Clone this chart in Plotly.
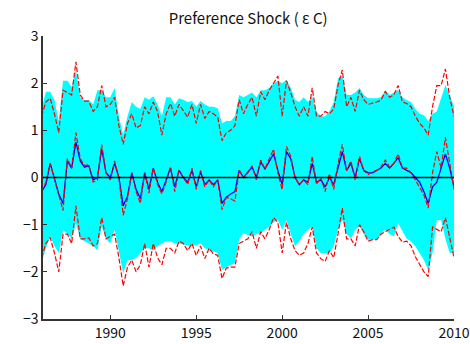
import plotly.graph_objects as go

# Quarterly time axis 1986Q1 .. 2010Q1 (decimal years)
start_year = 1986.0
n_points = 97
years = [start_year + k / 4 for k in range(n_points)]

median = [-0.3, -0.1, 0.3, -0.05, -0.4, -0.7, 0.4, 0.2, 0.95, 0.4, 0.25, 0.27, -0.1, -0.05, 0.7, 0.1,
          -0.05, 0.35, 0.0, -0.8, -0.45, 0.1, -0.3, -0.55, 0.1, -0.33, 0.2, -0.15, -0.35, -0.1, 0.23, -0.3,
          0.15, 0.0, -0.15, 0.2, -0.25, 0.15, -0.2, -0.05, -0.2, -0.05, -0.68, -0.42, -0.45, -0.5, 0.15, 0.0,
          0.1, 0.25, -0.05, 0.37, 0.18, 0.4, 0.6, 0.1, -0.26, 0.66, 0.45, 0.0, -0.15, -0.05, -0.15, 0.45,
          -0.15, 0.0, -0.3, 0.08, -0.25, 0.3, 0.7, 0.15, 0.35, -0.05, 0.45, 0.15, 0.06, 0.12, 0.15, 0.22,
          0.37, 0.22, 0.3, 0.5, 0.2, 0.2, 0.1, -0.05, -0.2, -0.37, -0.65, 0.1, 0.55, 0.2, 0.85, 0.3, -0.25]

mean = [-0.3, -0.15, 0.3, 0.0, -0.35, -0.55, 0.35, 0.2, 0.75, 0.35, 0.22, 0.25, -0.05, 0.0, 0.6, 0.1,
        0.0, 0.3, 0.0, -0.6, -0.4, 0.1, -0.25, -0.45, 0.1, -0.25, 0.2, -0.1, -0.3, -0.05, 0.2, -0.2,
        0.15, 0.0, -0.1, 0.15, -0.2, 0.12, -0.15, -0.05, -0.15, -0.05, -0.55, -0.42, -0.35, -0.3, 0.15, 0.0,
        0.1, 0.22, 0.0, 0.33, 0.18, 0.35, 0.5, 0.15, -0.15, 0.55, 0.4, 0.0, -0.15, -0.05, -0.1, 0.3,
        -0.1, -0.05, -0.2, 0.0, -0.15, 0.2, 0.55, 0.15, 0.3, 0.0, 0.4, 0.15, 0.1, 0.1, 0.15, 0.2,
        0.3, 0.2, 0.3, 0.42, 0.2, 0.15, 0.1, 0.0, -0.1, -0.3, -0.55, -0.2, -0.1, 0.2, 0.5, 0.2, -0.2]

upper_red = [1.3, 1.6, 1.68, 1.35, 0.95, 1.85, 1.8, 1.75, 2.45, 1.75, 1.62, 1.62, 1.4, 1.5, 1.95, 1.5,
             1.55, 1.7, 1.1, 0.7, 1.15, 1.35, 1.05, 1.1, 1.5, 1.35, 1.6, 1.4, 0.9, 1.35, 1.57, 1.3,
             1.55, 1.4, 1.28, 1.55, 1.15, 1.55, 1.25, 1.4, 1.35, 1.28, 0.78, 0.95, 1.0, 1.1, 1.65, 1.35,
             1.55, 1.7, 1.3, 1.82, 1.65, 1.85, 2.0, 2.15, 1.3, 2.05, 1.8, 1.5, 1.3, 1.5, 1.3, 1.9,
             1.3, 1.3, 1.4, 1.35, 1.45, 1.95, 2.28, 1.5, 1.7, 1.4, 1.85, 1.65, 1.55, 1.57, 1.6, 1.64,
             1.82, 1.7, 1.75, 1.95, 1.6, 1.57, 1.5, 1.3, 1.15, 1.05, 0.9, 1.5, 1.95, 1.95, 2.3, 1.7, 1.3]

lower_red = [-1.7, -1.4, -1.27, -1.6, -2.0, -1.2, -1.2, -1.4, -0.6, -1.3, -1.3, -1.28, -1.45, -1.4, -0.85, -1.3,
             -1.25, -1.2, -1.7, -2.3, -1.9, -1.75, -2.0, -1.85, -1.4, -1.9, -1.4, -1.7, -1.85, -1.5, -1.5, -1.6,
             -1.35, -1.4, -1.55, -1.4, -1.65, -1.45, -1.72, -1.5, -1.62, -1.65, -2.14, -1.92, -1.9, -1.9, -1.4, -1.35,
             -1.3, -1.15, -1.5, -1.15, -1.3, -1.1, -0.85, -0.95, -1.6, -0.95, -1.3, -1.55, -1.65, -1.6, -1.4, -1.05,
             -1.6, -1.72, -1.78, -1.55, -1.7, -1.2, -0.65, -1.3, -1.3, -1.45, -1.0, -1.15, -1.35, -1.32, -1.32, -1.2,
             -1.15, -1.1, -1.05, -1.25, -1.37, -1.35, -1.45, -1.68, -1.85, -2.0, -2.1, -1.05, -1.1, -1.15, -0.85, -1.25, -1.7]

band_upper = [1.45, 1.82, 1.82, 1.64, 1.2, 2.05, 2.05, 1.92, 2.28, 1.7, 1.64, 1.64, 1.55, 1.85, 1.85, 1.7,
              1.7, 1.9, 1.3, 0.9, 1.3, 1.6, 1.5, 1.45, 1.7, 1.65, 1.72, 1.55, 1.3, 1.7, 1.7, 1.55,
              1.68, 1.65, 1.6, 1.62, 1.5, 1.62, 1.55, 1.5, 1.5, 1.47, 1.15, 1.2, 1.2, 1.3, 1.75, 1.7,
              1.75, 1.8, 1.7, 1.85, 1.85, 1.9, 2.0, 2.05, 2.0, 2.07, 1.9, 1.65, 1.6, 1.7, 1.6, 1.71,
              1.4, 1.3, 1.3, 1.4, 1.6, 2.1, 2.15, 1.75, 1.75, 1.8, 1.9, 1.75, 1.68, 1.68, 1.68, 1.7,
              1.85, 1.75, 1.8, 1.85, 1.7, 1.64, 1.6, 1.45, 1.35, 1.32, 1.2, 1.35, 1.4, 1.7, 1.96, 1.75, 1.5]

band_lower = [-1.82, -1.5, -1.25, -1.45, -1.6, -1.11, -1.2, -1.3, -0.97, -1.3, -1.35, -1.4, -1.45, -1.54, -1.04, -1.3,
              -1.4, -1.11, -1.6, -2.03, -1.75, -1.75, -1.7, -1.6, -1.5, -1.5, -1.55, -1.45, -1.4, -1.35, -1.35, -1.4,
              -1.4, -1.42, -1.45, -1.46, -1.43, -1.4, -1.5, -1.54, -1.57, -1.6, -1.96, -1.9, -1.85, -1.82, -1.3, -1.18,
              -1.22, -1.25, -1.2, -1.18, -1.1, -1.04, -0.95, -0.9, -1.11, -0.9, -1.2, -1.46, -1.35, -1.2, -1.1, -1.04,
              -1.5, -1.6, -1.6, -1.6, -1.46, -1.1, -0.9, -1.2, -1.3, -1.1, -1.04, -1.2, -1.32, -1.32, -1.32, -1.2,
              -1.11, -1.2, -1.25, -0.97, -1.15, -1.3, -1.35, -1.46, -1.6, -1.75, -1.96, -1.6, -0.9, -0.9, -1.3, -1.6, -1.6]

y_ticks = [-3, -2, -1, 0, 1, 2, 3]
x_ticks = [1990, 1995, 2000, 2005, 2010]
x_range = [1986.083, 2010.0]

red_dash = dict(width=1.2, color="#FF0000", dash="5px,2px")

fig = go.Figure()
fig.add_trace(go.Scatter(x=years, y=band_lower, mode="lines", line=dict(width=0, color="#00FFFF"),
                         showlegend=False, hoverinfo="skip"))
fig.add_trace(go.Scatter(x=years, y=band_upper, mode="lines", line=dict(width=0, color="#00FFFF"),
                         fill="tonexty", fillcolor="#00FFFF", showlegend=False, hoverinfo="skip"))
fig.add_trace(go.Scatter(x=years, y=upper_red, mode="lines", line=red_dash, showlegend=False))
fig.add_trace(go.Scatter(x=years, y=lower_red, mode="lines", line=red_dash, showlegend=False))
fig.add_trace(go.Scatter(x=years, y=mean, mode="lines", line=dict(width=1.3, color="#0000FF"),
                         showlegend=False))
fig.add_trace(go.Scatter(x=years, y=median, mode="lines", line=red_dash, showlegend=False))
fig.add_hline(y=0, line=dict(color="black", width=1.5))

font_family = "Noto Sans CJK JP, Noto Sans, sans-serif"
fig.update_layout(
    width=470, height=344,
    margin=dict(l=43, r=16, t=36, b=25),
    paper_bgcolor="white", plot_bgcolor="white",
    title=dict(text="Preference Shock ( ε C)", x=0.528, xanchor="center", y=1 - 19 / 344,
               yanchor="middle", yref="container", font=dict(family=font_family, size=15, color="#111")),
    font=dict(family=font_family, size=14, color="#111"),
    xaxis=dict(range=x_range, tickvals=x_ticks, ticks="inside", ticklen=4, tickcolor="#333",
               showline=True, linecolor="#333", linewidth=1.5, showgrid=False, zeroline=False,
               mirror=False, tickfont=dict(size=14), automargin=False),
    yaxis=dict(range=[-3, 3], tickvals=y_ticks, ticks="inside", ticklen=4, tickcolor="#333",
               showline=True, linecolor="#333", linewidth=1.5, showgrid=False, zeroline=False,
               tickfont=dict(size=14), automargin=False),
)
fig.write_html("out.html")
